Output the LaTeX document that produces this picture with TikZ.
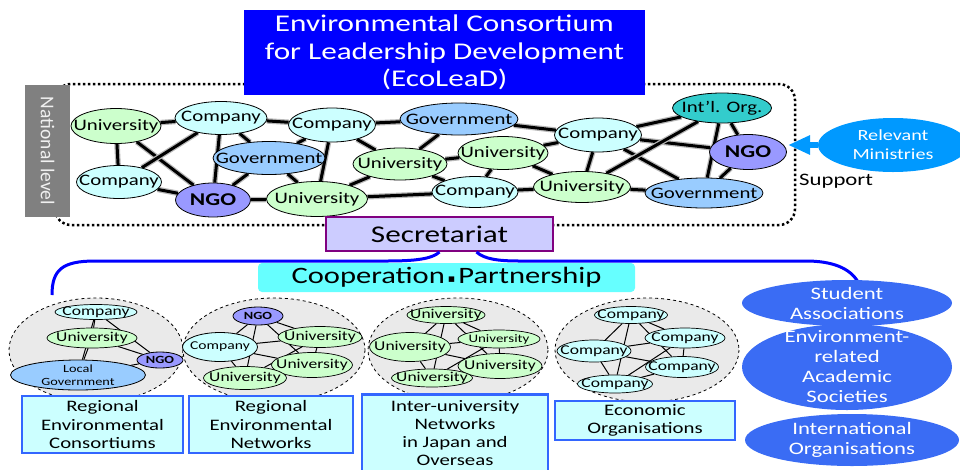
\documentclass[tikz,border=0pt]{standalone}
\usepackage{fontspec}
\setmainfont[FakeStretch=1.3]{Carlito}
\newfontfamily\plainfont{Carlito}
\newfontfamily\symfont{DejaVu Sans}
\usepackage{tikz}
\usetikzlibrary{shapes.geometric, arrows.meta, positioning, backgrounds}

\definecolor{uniG}{HTML}{CCFFCC}
\definecolor{compC}{HTML}{CCFFFF}
\definecolor{govB}{HTML}{99CCFF}
\definecolor{ngoP}{HTML}{9999FF}
\definecolor{intlT}{HTML}{33CCCC}
\definecolor{titleB}{HTML}{0000FF}
\definecolor{secrL}{HTML}{CCCCFF}
\definecolor{secrP}{HTML}{800080}
\definecolor{coopC}{HTML}{66FFFF}
\definecolor{boxB}{HTML}{3366FF}
\definecolor{ovalB}{HTML}{3A6CF4}
\definecolor{minB}{HTML}{0099FF}
\definecolor{natG}{HTML}{808080}
\definecolor{backG}{HTML}{EAEAEA}

\pgfdeclarelayer{back}
\pgfdeclarelayer{edges}
\pgfsetlayers{back,edges,main}

\newcommand\fsz[2]{\fontsize{#1}{#2}\selectfont}

\tikzset{
  org/.style={ellipse, draw=black, line width=0.8pt, inner xsep=-60pt, inner ysep=-20pt, font=\fsz{16}{19}},
  uni/.style={org, fill=uniG, minimum width=90, minimum height=33},
  comp/.style={org, fill=compC, minimum width=87, minimum height=33},
  gov/.style={org, fill=govB, minimum width=116, minimum height=32},
  ngo/.style={org, fill=ngoP, minimum width=76, minimum height=34, font=\fsz{18}{20}\bfseries},
  intl/.style={org, fill=intlT, minimum width=99, minimum height=30},
  sm/.style={font=\fsz{13.5}{15}, line width=0.7pt},
  link/.style={line width=3pt, preaction={draw=gray!55, line width=5.5pt}},
  thinlink/.style={line width=1pt},
  natframe/.style={line width=2.5pt, dash pattern=on 2.5pt off 2.5pt, rounded corners=16},
  backdrop/.style={fill=backG, draw=black, dashed, line width=0.8pt},
  labelbox/.style={rectangle, draw=boxB, line width=2.5pt, fill=compC, align=center, inner sep=0pt, font=\fsz{16}{18.5}},
  blueoval/.style={ellipse, fill=ovalB, text=white, align=center, inner xsep=-60pt, inner ysep=-40pt, font=\fsz{17.5}{20}},
  brace/.style={titleB, line width=3pt},
}

\begin{document}
\begin{tikzpicture}[x=1pt, y=-1pt]
    \useasboundingbox (0,0) rectangle (960,469);

    % Khung cap quoc gia va nen cac nhom
    \begin{pgfonlayer}{back}
        \draw[natframe] (55,84) rectangle (795,225);
        \draw[backdrop] (96,350) ellipse [x radius=87, y radius=52];
        \draw[backdrop] (274,350) ellipse [x radius=91, y radius=52];
        \draw[backdrop] (458,350) ellipse [x radius=90, y radius=52];
        \draw[backdrop] (647,350) ellipse [x radius=92, y radius=52];
    \end{pgfonlayer}

    \node[fill=natG, rotate=-90, minimum width=132, minimum height=45, inner sep=0pt,
          text=white!88!gray, font=\plainfont\fsz{19.5}{22}] (nat) at (47.5,151) {National level};
    \node[fill=titleB, text=white, align=center, minimum width=401, minimum height=85,
          inner sep=0pt, font=\fsz{24}{27.5}] (title) at (444.5,52.5)
          {Environmental Consortium\\for Leadership Development\\(EcoLeaD)};

    % Mang luoi quoc gia
    \node[uni, minimum width=90, minimum height=35] (u1) at (116,126) {University};
    \node[comp, minimum width=92] (c1) at (221,118) {Company};
    \node[comp, minimum height=34] (c2) at (332,125) {Company};
    \node[gov, minimum width=118] (g1) at (459,119) {Government};
    \node[comp, minimum height=34] (c3) at (598,135) {Company};
    \node[intl] (io) at (722,108) {Int’l. Org.};
    \node[ngo, minimum width=77, minimum height=35] (n2) at (748,152) {NGO};
    \node[gov, minimum width=112, minimum height=33] (g2) at (269,158) {Government};
    \node[uni, minimum width=94, minimum height=32] (u2) at (400,164) {University};
    \node[uni] (u3) at (503,153) {University};
    \node[comp, minimum width=85] (c4) at (119,182) {Company};
    \node[ngo, minimum width=75] (n1) at (213,200) {NGO};
    \node[uni, minimum width=101, minimum height=35] (u4) at (317,199) {University};
    \node[comp, minimum width=86, minimum height=31] (c5) at (475,192) {Company};
    \node[uni, minimum width=97, minimum height=31] (u5) at (582,187) {University};
    \node[gov, minimum width=118, minimum height=30] (g3) at (704,193) {Government};

    \begin{pgfonlayer}{edges}
        \foreach \a/\b in {u1/c1, u1/c4, u1/n1, c1/c4, c1/n1, c1/g2, c1/c2, c2/g2, c2/u4,
                           c2/u2, c2/g1, c4/n1, n1/g2, n1/u4, g2/u4, u4/u2, u4/c5, u2/u3,
                           u2/g1, u2/c5, g1/c3, u3/c3, u3/c5, u3/u5, c3/io, c3/n2, c3/g3,
                           c3/u5, io/u5, io/g3, io/n2, n2/g3, u5/g3, c5/u5}
            \draw[link] (\a) -- (\b);
    \end{pgfonlayer}

    % Bo ho tro
    \node[ellipse, fill=minB, text=white, align=center, minimum width=150, minimum height=54,
          inner xsep=-60pt, inner ysep=-30pt, font=\fsz{15.5}{19}] (rm) at (893,145) {Relevant\\Ministries};
    \coordinate (tip) at (788,145);
    \draw[-{Triangle[length=22pt, width=18pt]}, line width=6pt, minB] (rm.west) -- (tip);
    \node[anchor=west, inner sep=0pt, font=\fsz{17.5}{20}] (sup) at (799,181) {Support};

    % Van phong va hop tac
    \node[fill=secrL, draw=secrP, line width=2pt, minimum width=227, minimum height=34,
          inner sep=0pt, font=\fsz{24}{26}] (secr) at (439.5,234) {Secretariat};
    \node[fill=coopC, rounded corners=4, minimum width=377, minimum height=29,
          inner sep=0pt, font=\fsz{23.5}{26}] (coop) at (446.5,277.5)
          {Cooperation{\symfont\fsz{11}{13}\hspace{3pt}\raisebox{1.5pt}{▪}\hspace{3pt}}Partnership};
    \coordinate (bl) at (52,295);
    \coordinate (br) at (858,282);
    \coordinate (sj) at ([xshift=37pt]secr.south);
    \draw[brace] (bl) .. controls (52,270) and (62,261) .. (95,261) -- (387,261)
                 .. controls (415,261) and (432,259) .. (secr.south);
    \draw[brace] (sj) .. controls (484,259) and (498,261) .. (519,261) -- (806,261)
                 .. controls (832,261) and (850,268) .. (br);

    % Consortium dia phuong
    \node[comp, sm, minimum width=82, minimum height=15] (rc1) at (96,312) {Company};
    \node[uni, sm, minimum width=90, minimum height=20] (rc2) at (92,338) {University};
    \node[ngo, minimum width=46, minimum height=16, font=\fsz{11}{12}\bfseries] (rc3) at (160,360) {NGO};
    \node[gov, align=center, minimum width=135, minimum height=30, font=\fsz{11}{13}] (rc4) at (78,375) {Local\\Government};

    % Mang luoi dia phuong
    \node[ngo, minimum width=50, minimum height=18, font=\fsz{11}{12}\bfseries] (rn1) at (258,316) {NGO};
    \node[comp, minimum width=75, minimum height=29, font=\fsz{12}{14}] (rn2) at (220,347) {Company};
    \node[uni, sm, minimum width=84, minimum height=21] (rn3) at (320,337) {University};
    \node[uni, sm, minimum width=81, minimum height=25] (rn4) at (312,365) {University};
    \node[uni, sm, minimum width=83, minimum height=23] (rn5) at (245,378) {University};

    % Lien truong dai hoc
    \node[uni, sm, minimum width=78, minimum height=17] (iu1) at (446,315) {University};
    \node[uni, sm, minimum width=81, minimum height=29] (iu2) at (410,347) {University};
    \node[uni, minimum width=82, minimum height=18, font=\fsz{11.5}{13}, line width=0.7pt] (iu3) at (499,339) {University};
    \node[uni, sm, minimum width=84, minimum height=25] (iu4) at (500,366) {University};
    \node[uni, sm, minimum width=81, minimum height=18] (iu5) at (432,378) {University};

    % To chuc kinh te
    \node[comp, sm, minimum width=73, minimum height=17] (eo1) at (631,315) {Company};
    \node[comp, sm, minimum width=74, minimum height=22] (eo2) at (594,351) {Company};
    \node[comp, sm, minimum width=80, minimum height=20] (eo3) at (685,338) {Company};
    \node[comp, sm, minimum width=73, minimum height=21] (eo4) at (682,367) {Company};
    \node[comp, sm, minimum width=75, minimum height=18] (eo5) at (615,384) {Company};

    \begin{pgfonlayer}{edges}
        \foreach \a/\b in {rc1/rc2, rc1/rc4, rc1/rc3, rc2/rc4, rc2/rc3, rc4/rc3}
            \draw[thinlink] (\a) -- (\b);
        \foreach \g in {rn, iu, eo}
            \foreach \a/\b in {1/2, 1/3, 1/4, 1/5, 2/3, 2/4, 2/5, 3/4, 3/5, 4/5}
                \draw[thinlink] (\g\a) -- (\g\b);
    \end{pgfonlayer}

    % Nhan cac nhom
    \node[labelbox, minimum width=161, minimum height=57] (lb1) at (102.5,424.5)
          {Regional\\Environmental\\Consortiums};
    \node[labelbox, minimum width=164, minimum height=57] (lb2) at (271,424.5)
          {Regional\\Environmental\\Networks};
    \node[labelbox, minimum width=186, minimum height=78, font=\fsz{16}{18}] (lb3) at (455,433.5)
          {Inter-university\\Networks\\in Japan and\\Overseas};
    \node[labelbox, minimum width=180, minimum height=39] (lb4) at (645,420.5)
          {Economic\\Organisations};

    % Cac to chuc khac
    \node[blueoval, minimum width=210, minimum height=46] (sa) at (847,303) {Student\\Associations};
    \node[blueoval, minimum width=210, minimum height=86] (as) at (847,367)
          {Environment-\\related\\Academic\\Societies};
    \node[blueoval, minimum width=214, minimum height=52] (io2) at (852,440) {International\\Organisations};
\end{tikzpicture}
\end{document}
